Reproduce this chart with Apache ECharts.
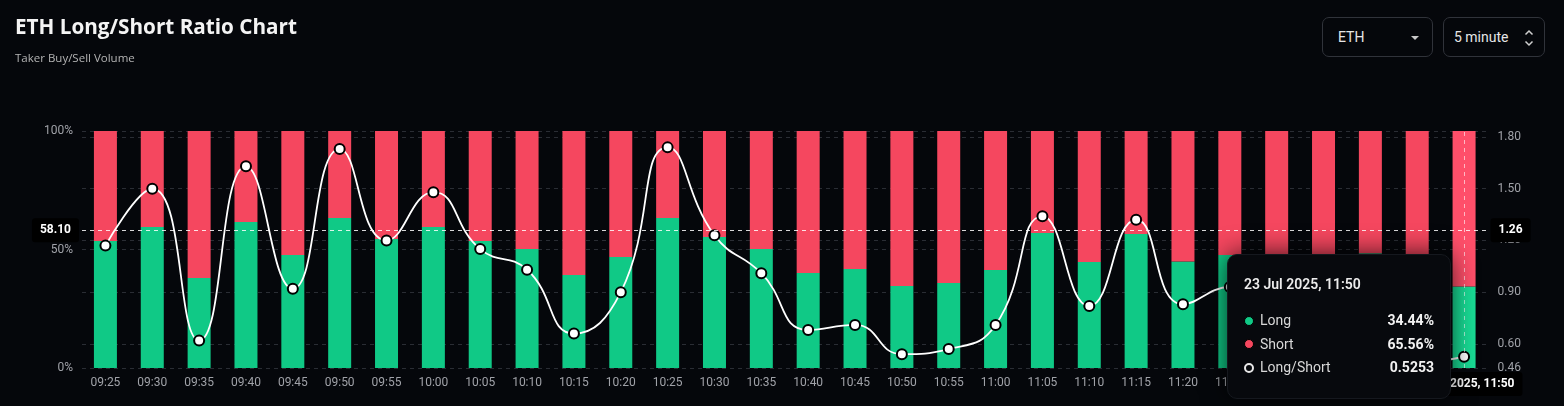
<!DOCTYPE html>
<html><head><meta charset="utf-8">
<script src="https://cdn.jsdelivr.net/npm/echarts@6/dist/echarts.min.js"></script>
<style>
html,body{margin:0;padding:0;background:#05070b;width:1564px;height:406px;overflow:hidden;font-family:Roboto,"Noto Sans",sans-serif}
#chart{position:absolute;left:0;top:0;width:1564px;height:406px}
.sel{position:absolute;top:17px;height:40px;box-sizing:border-box;border:1px solid #30333a;border-radius:7px;color:#e6e6e6;font-size:14px;line-height:38px;background:#05070b;font-family:Roboto,sans-serif}
</style></head><body>
<div id="chart"></div>
<div class="sel" style="left:1322px;width:111px;padding-left:15px">ETH<span style="position:absolute;left:88px;top:18px;width:0;height:0;border-left:4px solid transparent;border-right:4px solid transparent;border-top:4px solid #c8c8c8"></span></div>
<div class="sel" style="left:1443px;width:102px;padding-left:10px">5 minute<svg style="position:absolute;left:80px;top:11px" width="10" height="18" viewBox="0 0 10 18"><polyline points="1.5,5.5 5,2 8.5,5.5" fill="none" stroke="#d0d0d0" stroke-width="1.5"/><polyline points="1.5,12.5 5,16 8.5,12.5" fill="none" stroke="#d0d0d0" stroke-width="1.5"/></svg></div>
<script>
const DATE_LABEL = '23 Jul 2025';
const times = ['09:25','09:30','09:35','09:40','09:45','09:50','09:55','10:00','10:05','10:10','10:15','10:20','10:25','10:30','10:35','10:40','10:45','10:50','10:55','11:00','11:05','11:10','11:15','11:20','11:25','11:30','11:35','11:40','11:45','11:50'];
const longPct = [53.6, 59.5, 38.0, 61.6, 47.7, 63.3, 54.4, 59.5, 53.6, 50.2, 39.2, 46.8, 63.3, 55.3, 50.2, 40.1, 41.8, 34.6, 35.9, 41.4, 57.0, 44.7, 56.5, 44.9, 47.7, 42.0, 45.0, 48.4, 33.0, 34.44];
const shortPct = [46.4, 40.5, 62.0, 38.4, 52.3, 36.7, 45.6, 40.5, 46.4, 49.8, 60.8, 53.2, 36.7, 44.7, 49.8, 59.9, 58.2, 65.4, 64.1, 58.6, 43.0, 55.3, 43.5, 55.1, 52.3, 58.0, 55.0, 51.6, 67.0, 65.56];
const ratio = [1.17, 1.50, 0.62, 1.63, 0.92, 1.73, 1.20, 1.48, 1.15, 1.03, 0.66, 0.90, 1.74, 1.23, 1.01, 0.68, 0.71, 0.54, 0.57, 0.71, 1.34, 0.82, 1.32, 0.83, 0.93, 0.72, 0.82, 0.94, 0.49, 0.5253];
const leftAxisRange = [0, 100];
const rightAxisRange = [0.46, 1.835];

const GREEN = '#10c986', RED = '#f5475f';
const chart = echarts.init(document.getElementById('chart'), null, {renderer: 'canvas'});
const split = {show: true, lineStyle: {color: '#2a2d34', type: [4, 4], width: 1}};
const axisLbl = {color: '#a0a2a8', fontSize: 12, fontFamily: 'Roboto'};

function tipHtml(params) {
  const i = params[0].dataIndex;
  const row = (mk, name, val) => '<div style="display:flex;align-items:center;height:23.5px">' + mk +
    '<span style="flex:1;color:#d8d8d8;font-size:14px">' + name + '</span>' +
    '<span style="font-weight:700;color:#f2f2f2;font-size:14px">' + val + '</span></div>';
  const dot = c => '<span style="display:inline-block;width:10px;height:10px;border-radius:50%;background:' + c + ';margin-right:6px;box-sizing:border-box;border:1px solid #000"></span>';
  const ring = '<span style="display:inline-block;width:10px;height:10px;border-radius:50%;border:2px solid #e8e8e8;margin-right:6px;box-sizing:border-box"></span>';
  return '<div style="font-family:Roboto,sans-serif;width:190px">' +
    '<div style="font-size:14px;font-weight:600;color:#ececec;line-height:26px;margin-bottom:12px">' + DATE_LABEL + ', ' + times[i] + '</div>' +
    row(dot(GREEN), 'Long', longPct[i].toFixed(2) + '%') +
    row(dot(RED), 'Short', shortPct[i].toFixed(2) + '%') +
    row(ring, 'Long/Short', ratio[i].toFixed(4)) + '</div>';
}

chart.setOption({
  animation: false,
  backgroundColor: '#05070b',
  title: {
    text: 'ETH Long/Short Ratio Chart', subtext: 'Taker Buy/Sell Volume', left: 10, top: 13, itemGap: 14,
    textStyle: {color: '#f4f4f4', fontSize: 20.7, fontWeight: 'bold', fontFamily: '"Open Sans"'},
    subtextStyle: {color: '#b4b4b4', fontSize: 11.5, fontFamily: '"Open Sans"'}
  },
  grid: {left: 82, right: 76.5, top: 131, bottom: 38},
  tooltip: {
    trigger: 'axis', show: true, alwaysShowContent: true, transitionDuration: 0,
    position: function () { return [1227, 254]; },
    backgroundColor: '#07090d', borderColor: '#15181e', borderWidth: 1, padding: [16, 16, 18, 16],
    extraCssText: 'border-radius:10px;box-shadow:0 0 26px rgba(0,0,0,0.75);',
    axisPointer: {
      type: 'cross',
      crossStyle: {color: 'rgba(255,255,255,0.6)', type: [4, 4], width: 1},
      lineStyle: {color: 'rgba(255,255,255,0.6)', type: [4, 4], width: 1},
      label: {backgroundColor: '#000', color: '#fff', fontWeight: 'bold', fontSize: 12, fontFamily: 'Roboto', padding: [6, 8]}
    },
    formatter: tipHtml
  },
  xAxis: {
    type: 'category', data: times, boundaryGap: true,
    axisLine: {show: false}, axisTick: {show: false},
    axisLabel: Object.assign({margin: 9, interval: 0}, axisLbl),
    axisPointer: {label: {formatter: p => DATE_LABEL + ', ' + p.value, margin: 4}}
  },
  yAxis: [{
    type: 'value', min: leftAxisRange[0], max: leftAxisRange[1], interval: 50,
    axisLine: {show: false}, axisTick: {show: false}, splitLine: split,
    axisLabel: Object.assign({margin: 9, formatter: '{value}%'}, axisLbl),
    axisPointer: {label: {formatter: p => Number(p.value).toFixed(2)}}
  }, {
    type: 'value', position: 'right', min: rightAxisRange[0], max: rightAxisRange[1], splitNumber: 5,
    axisLine: {show: false}, axisTick: {show: false}, splitLine: split,
    axisLabel: Object.assign({margin: 10, showMaxLabel: false, formatter: v => v.toFixed(2)}, axisLbl),
    axisPointer: {label: {formatter: p => Number(p.value).toFixed(2)}}
  }],
  series: [{
    name: 'Long', type: 'bar', stack: 'ls', barWidth: 23, data: longPct,
    itemStyle: {color: GREEN}, emphasis: {itemStyle: {color: '#19dc95'}}
  }, {
    name: 'Short', type: 'bar', stack: 'ls', barWidth: 23, data: shortPct,
    itemStyle: {color: RED}, emphasis: {itemStyle: {color: '#ff4f6a'}}
  }, {
    name: 'Long/Short', type: 'line', yAxisIndex: 1, data: ratio, smooth: true, z: 5,
    symbol: 'circle', symbolSize: 10, showAllSymbol: true,
    lineStyle: {color: '#eeeeee', width: 1.8},
    itemStyle: {color: '#ffffff', borderColor: '#000000', borderWidth: 2},
    emphasis: {scale: false}
  }]
});
chart.dispatchAction({type: 'showTip', x: 1464, y: 230.3});
</script>
</body></html>
